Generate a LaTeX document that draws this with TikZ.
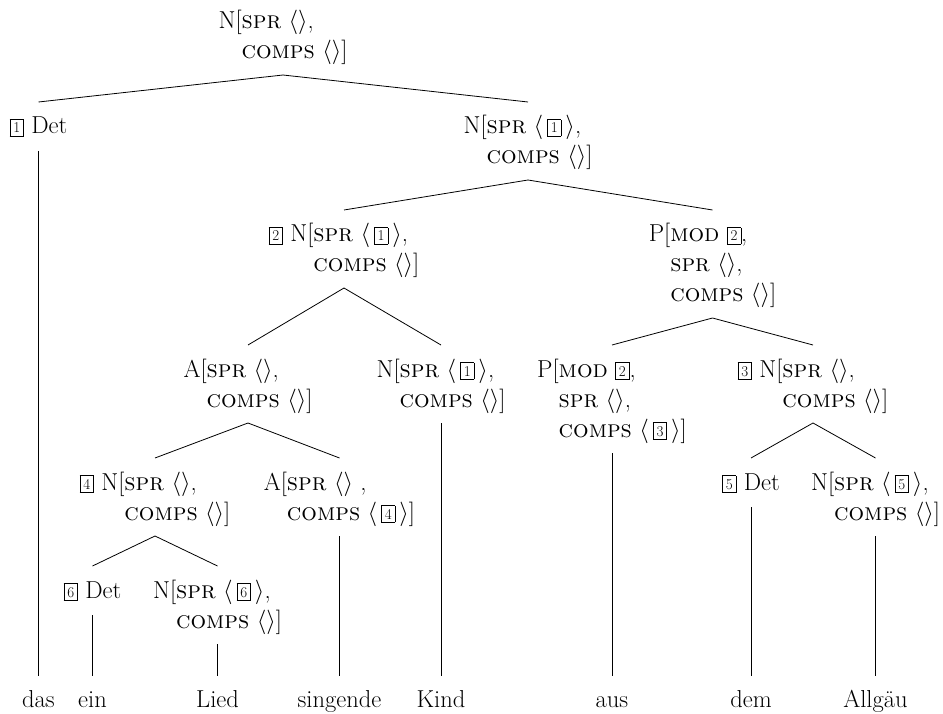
\RequirePackage{fix-cm}
\documentclass[tikz,border=0pt]{standalone}

% boxed structure-sharing tag
\newcommand{\tg}[1]{\raisebox{1pt}{\setlength{\fboxsep}{3pt}\setlength{\fboxrule}{0.7pt}\fbox{\fontsize{15}{15}\selectfont #1}}}
\newcommand{\ft}[1]{\textsc{#1}}
\newcommand{\el}{$\langle\rangle$}
\newcommand{\li}[1]{$\langle$\kern4pt\tg{#1}\kern4pt$\rangle$}
% invisible struts that fix where the branches start and end
\newcommand{\topstrut}{\rule{0pt}{32pt}}
\newcommand{\botstrut}{\rule[-16pt]{0pt}{16pt}}
% category with a bracketed feature list
\newcommand{\avm}[2]{#1[\begin{tabular}[t]{@{}l@{}}\topstrut#2\botstrut\end{tabular}}
\newcommand{\cat}[1]{\topstrut#1\rule[-17pt]{0pt}{17pt}}
\newcommand{\word}[1]{\rule{0pt}{31pt}#1}

\begin{document}
\begin{tikzpicture}[x=1pt,y=-1pt,
  tn/.style={anchor=base,inner sep=0pt,outer sep=0pt,font=\fontsize{24.5}{30}\selectfont},
  branch/.style={line width=0.8pt}]
\useasboundingbox (0,0) rectangle (943,714);

% level 0
\node[tn] (root) at (283,29) {\avm{N}{\ft{spr} \el,\\ \ft{comps} \el]}};
% level 1
\node[tn] (det1) at (38.5,134) {\cat{\tg{1} Det}};
\node[tn] (nA) at (528,134) {\avm{N}{\ft{spr} \li{1},\\ \ft{comps} \el]}};
% level 2
\node[tn] (n2) at (344,242) {\avm{\tg{2} N}{\ft{spr} \li{1},\\ \ft{comps} \el]}};
\node[tn] (p) at (712.5,242) {\avm{P}{\ft{mod} \tg{2},\\ \ft{spr} \el,\\ \ft{comps} \el]}};
% level 3
\node[tn] (a) at (248,377) {\avm{A}{\ft{spr} \el,\\ \ft{comps} \el]}};
\node[tn] (nk) at (441,377) {\avm{N}{\ft{spr} \li{1},\\ \ft{comps} \el]}};
\node[tn] (pm) at (612,377) {\avm{P}{\ft{mod} \tg{2},\\ \ft{spr} \el,\\ \ft{comps} \li{3}]}};
\node[tn] (n3) at (813,377) {\avm{\tg{3} N}{\ft{spr} \el,\\ \ft{comps} \el]}};
% level 4
\node[tn] (n4) at (155,490) {\avm{\tg{4} N}{\ft{spr} \el,\\ \ft{comps} \el]}};
\node[tn] (a4) at (339.5,490) {\avm{A}{\ft{spr} \el\ ,\\ \ft{comps} \li{4}]}};
\node[tn] (d5) at (751,490) {\cat{\tg{5} Det}};
\node[tn] (n5) at (875.5,490) {\avm{N}{\ft{spr} \li{5},\\ \ft{comps} \el]}};
% level 5
\node[tn] (d6) at (92.5,598) {\cat{\tg{6} Det}};
\node[tn] (n6) at (217.5,598) {\avm{N}{\ft{spr} \li{6},\\ \ft{comps} \el]}};
% words
\node[tn] (w1) at (38.5,707) {\word{das}};
\node[tn] (w2) at (92.5,707) {\word{ein}};
\node[tn] (w3) at (217.5,707) {\word{Lied}};
\node[tn] (w4) at (339.5,707) {\word{singende}};
\node[tn] (w5) at (441,707) {\word{Kind}};
\node[tn] (w6) at (612,707) {\word{aus}};
\node[tn] (w7) at (751,707) {\word{dem}};
\node[tn] (w8) at (875.5,707) {\word{Allgäu}};

% branches
\draw[branch] (root.south) -- (det1.north);
\draw[branch] (root.south) -- (nA.north);
\draw[branch] (nA.south) -- (n2.north);
\draw[branch] (nA.south) -- (p.north);
\draw[branch] (n2.south) -- (a.north);
\draw[branch] (n2.south) -- (nk.north);
\draw[branch] (p.south) -- (pm.north);
\draw[branch] (p.south) -- (n3.north);
\draw[branch] (a.south) -- (n4.north);
\draw[branch] (a.south) -- (a4.north);
\draw[branch] (n3.south) -- (d5.north);
\draw[branch] (n3.south) -- (n5.north);
\draw[branch] (n4.south) -- (d6.north);
\draw[branch] (n4.south) -- (n6.north);
% unary branches to the words
\draw[branch] (det1.south) -- (w1.north);
\draw[branch] (d6.south) -- (w2.north);
\draw[branch] (n6.south) -- (w3.north);
\draw[branch] (a4.south) -- (w4.north);
\draw[branch] (nk.south) -- (w5.north);
\draw[branch] (pm.south) -- (w6.north);
\draw[branch] (d5.south) -- (w7.north);
\draw[branch] (n5.south) -- (w8.north);
\end{tikzpicture}
\end{document}
